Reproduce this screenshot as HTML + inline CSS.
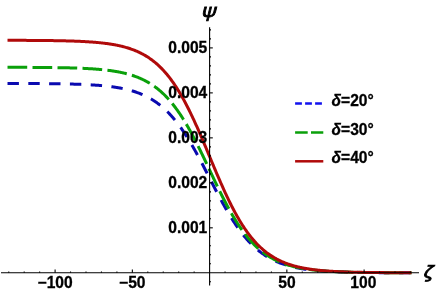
<!DOCTYPE html><html><head><meta charset="utf-8"><style>html,body{margin:0;padding:0;background:#fff}svg{display:block;will-change:transform}</style></head><body><svg width="436" height="293" viewBox="0 0 436 293">
<polyline points="7.51,83.48 8.29,83.48 9.06,83.48 9.83,83.48 10.60,83.49 11.38,83.49 12.15,83.49 12.92,83.49 13.69,83.49 14.47,83.49 15.24,83.50 16.01,83.50 16.78,83.50 17.56,83.50 18.33,83.51 19.10,83.51 19.87,83.51 20.65,83.51 21.42,83.52 22.19,83.52 22.96,83.52 23.74,83.52 24.51,83.53 25.28,83.53 26.05,83.53 26.83,83.54 27.60,83.54 28.37,83.54 29.14,83.55 29.92,83.55 30.69,83.55 31.46,83.56 32.23,83.56 33.01,83.56 33.78,83.57 34.55,83.57 35.32,83.58 36.10,83.58 36.87,83.59 37.64,83.59 38.41,83.60 39.19,83.60 39.96,83.61 40.73,83.61 41.50,83.62 42.28,83.63 43.05,83.63 43.82,83.64 44.59,83.64 45.37,83.65 46.14,83.66 46.91,83.67 47.68,83.67 48.46,83.68 49.23,83.69 50.00,83.70 50.77,83.71 51.55,83.71 52.32,83.72 53.09,83.73 53.86,83.74 54.64,83.75 55.41,83.76 56.18,83.77 56.95,83.78 57.73,83.80 58.50,83.81 59.27,83.82 60.04,83.83 60.82,83.84 61.59,83.86 62.36,83.87 63.13,83.88 63.91,83.90 64.68,83.91 65.45,83.93 66.22,83.95 67.00,83.96 67.77,83.98 68.54,84.00 69.31,84.02 70.09,84.03 70.86,84.05 71.63,84.07 72.40,84.09 73.18,84.12 73.95,84.14 74.72,84.16 75.49,84.18 76.27,84.21 77.04,84.23 77.81,84.26 78.58,84.28 79.36,84.31 80.13,84.34 80.90,84.37 81.67,84.40 82.45,84.43 83.22,84.46 83.99,84.50 84.76,84.53 85.54,84.57 86.31,84.60 87.08,84.64 87.85,84.68 88.63,84.72 89.40,84.76 90.17,84.80 90.94,84.85 91.72,84.89 92.49,84.94 93.26,84.99 94.03,85.04 94.81,85.09 95.58,85.14 96.35,85.19 97.12,85.25 97.90,85.31 98.67,85.37 99.44,85.43 100.21,85.50 100.99,85.56 101.76,85.63 102.53,85.70 103.30,85.77 104.08,85.85 104.85,85.92 105.62,86.00 106.39,86.08 107.17,86.17 107.94,86.26 108.71,86.35 109.48,86.44 110.26,86.53 111.03,86.63 111.80,86.74 112.57,86.84 113.35,86.95 114.12,87.06 114.89,87.17 115.66,87.29 116.44,87.42 117.21,87.54 117.98,87.67 118.75,87.81 119.53,87.94 120.30,88.09 121.07,88.23 121.84,88.38 122.62,88.54 123.39,88.70 124.16,88.87 124.93,89.04 125.71,89.21 126.48,89.39 127.25,89.58 128.02,89.77 128.80,89.97 129.57,90.17 130.34,90.38 131.11,90.60 131.89,90.82 132.66,91.05 133.43,91.29 134.20,91.53 134.98,91.78 135.75,92.04 136.52,92.31 137.29,92.58 138.07,92.86 138.84,93.15 139.61,93.45 140.38,93.75 141.16,94.07 141.93,94.39 142.70,94.73 143.47,95.07 144.25,95.42 145.02,95.79 145.79,96.16 146.56,96.54 147.34,96.94 148.11,97.34 148.88,97.76 149.65,98.18 150.43,98.62 151.20,99.07 151.97,99.54 152.74,100.01 153.52,100.50 154.29,101.00 155.06,101.52 155.83,102.04 156.61,102.59 157.38,103.14 158.15,103.71 158.92,104.29 159.70,104.89 160.47,105.51 161.24,106.13 162.01,106.78 162.79,107.44 163.56,108.11 164.33,108.80 165.10,109.51 165.88,110.24 166.65,110.98 167.42,111.74 168.19,112.51 168.97,113.30 169.74,114.11 170.51,114.94 171.28,115.79 172.06,116.65 172.83,117.53 173.60,118.43 174.37,119.35 175.15,120.29 175.92,121.24 176.69,122.21 177.46,123.20 178.24,124.21 179.01,125.24 179.78,126.29 180.55,127.35 181.33,128.44 182.10,129.54 182.87,130.66 183.64,131.80 184.42,132.95 185.19,134.13 185.96,135.32 186.73,136.52 187.51,137.75 188.28,138.99 189.05,140.25 189.82,141.53 190.60,142.82 191.37,144.12 192.14,145.44 192.91,146.78 193.69,148.13 194.46,149.49 195.23,150.87 196.00,152.26 196.78,153.66 197.55,155.07 198.32,156.49 199.09,157.93 199.87,159.37 200.64,160.82 201.41,162.29 202.18,163.75 202.96,165.23 203.73,166.71 204.50,168.20 205.27,169.70 206.05,171.19 206.82,172.70 207.59,174.20 208.36,175.71 209.14,177.21 209.91,178.72 210.68,180.23 211.45,181.73 212.23,183.24 213.00,184.74 213.77,186.24 214.54,187.73 215.32,189.22 216.09,190.71 216.86,192.18 217.63,193.66 218.41,195.12 219.18,196.57 219.95,198.02 220.72,199.46 221.50,200.88 222.27,202.30 223.04,203.70 223.81,205.09 224.59,206.47 225.36,207.84 226.13,209.19 226.90,210.53 227.68,211.85 228.45,213.16 229.22,214.45 229.99,215.73 230.77,216.99 231.54,218.24 232.31,219.47 233.08,220.68 233.86,221.87 234.63,223.05 235.40,224.21 236.17,225.35 236.95,226.47 237.72,227.58 238.49,228.67 239.26,229.73 240.04,230.78 240.81,231.82 241.58,232.83 242.35,233.83 243.13,234.80 243.90,235.76 244.67,236.70 245.44,237.62 246.22,238.52 246.99,239.41 247.76,240.28 248.53,241.12 249.31,241.96 250.08,242.77 250.85,243.57 251.62,244.34 252.40,245.11 253.17,245.85 253.94,246.58 254.71,247.29 255.49,247.98 256.26,248.66 257.03,249.33 257.80,249.97 258.58,250.60 259.35,251.22 260.12,251.82 260.89,252.41 261.67,252.98 262.44,253.54 263.21,254.08 263.98,254.61 264.76,255.13 265.53,255.63 266.30,256.12 267.07,256.60 267.85,257.07 268.62,257.52 269.39,257.96 270.16,258.39 270.94,258.81 271.71,259.22 272.48,259.61 273.25,260.00 274.03,260.37 274.80,260.74 275.57,261.09 276.34,261.44 277.12,261.77 277.89,262.10 278.66,262.42 279.43,262.73 280.21,263.02 280.98,263.32 281.75,263.60 282.52,263.87 283.30,264.14 284.07,264.40 284.84,264.65 285.61,264.90 286.39,265.13 287.16,265.37 287.93,265.59 288.70,265.81 289.48,266.02 290.25,266.22 291.02,266.42 291.79,266.62 292.57,266.80 293.34,266.99 294.11,267.16 294.88,267.33 295.66,267.50 296.43,267.66 297.20,267.82 297.97,267.97 298.75,268.12 299.52,268.26 300.29,268.40 301.06,268.54 301.84,268.67 302.61,268.79 303.38,268.92 304.15,269.04 304.93,269.15 305.70,269.26 306.47,269.37 307.24,269.48 308.02,269.58 308.79,269.68 309.56,269.78 310.33,269.87 311.11,269.96 311.88,270.05 312.65,270.13 313.42,270.22 314.20,270.30 314.97,270.37 315.74,270.45 316.51,270.52 317.29,270.59 318.06,270.66 318.83,270.73 319.60,270.79 320.38,270.85 321.15,270.91 321.92,270.97 322.69,271.03 323.47,271.08 324.24,271.14 325.01,271.19 325.78,271.24 326.56,271.29 327.33,271.33 328.10,271.38 328.87,271.42 329.65,271.47 330.42,271.51 331.19,271.55 331.96,271.59 332.74,271.63 333.51,271.66 334.28,271.70 335.05,271.73 335.83,271.77 336.60,271.80 337.37,271.83 338.14,271.86 338.92,271.89 339.69,271.92 340.46,271.94 341.23,271.97 342.01,272.00 342.78,272.02 343.55,272.05 344.32,272.07 345.10,272.09 345.87,272.11 346.64,272.14 347.41,272.16 348.19,272.18 348.96,272.20 349.73,272.22 350.50,272.23 351.28,272.25 352.05,272.27 352.82,272.28 353.59,272.30 354.37,272.32 355.14,272.33 355.91,272.35 356.68,272.36 357.46,272.37 358.23,272.39 359.00,272.40 359.77,272.41 360.55,272.43 361.32,272.44 362.09,272.45 362.86,272.46 363.64,272.47 364.41,272.48 365.18,272.49 365.95,272.50 366.73,272.51 367.50,272.52 368.27,272.53 369.04,272.54 369.82,272.54 370.59,272.55 371.36,272.56 372.13,272.57 372.91,272.57 373.68,272.58 374.45,272.59 375.22,272.60 376.00,272.60 376.77,272.61 377.54,272.61 378.31,272.62 379.09,272.63 379.86,272.63 380.63,272.64 381.40,272.64 382.18,272.65 382.95,272.65 383.72,272.66 384.49,272.66 385.27,272.66 386.04,272.67 386.81,272.67 387.58,272.68 388.36,272.68 389.13,272.68 389.90,272.69 390.67,272.69 391.45,272.69 392.22,272.70 392.99,272.70 393.76,272.70 394.54,272.71 395.31,272.71 396.08,272.71 396.85,272.72 397.63,272.72 398.40,272.72 399.17,272.72 399.94,272.73 400.72,272.73 401.49,272.73 402.26,272.73 403.03,272.73 403.81,272.74 404.58,272.74 405.35,272.74 406.12,272.74 406.90,272.74 407.67,272.75 408.44,272.75 409.21,272.75 409.99,272.75 410.76,272.75 411.53,272.75" fill="none" stroke="#0a0ab0" stroke-width="3.0" stroke-dasharray="11.4,9.4"/>
<polyline points="7.51,67.29 8.29,67.29 9.06,67.29 9.83,67.30 10.60,67.30 11.38,67.30 12.15,67.30 12.92,67.30 13.69,67.31 14.47,67.31 15.24,67.31 16.01,67.31 16.78,67.31 17.56,67.32 18.33,67.32 19.10,67.32 19.87,67.32 20.65,67.33 21.42,67.33 22.19,67.33 22.96,67.33 23.74,67.34 24.51,67.34 25.28,67.34 26.05,67.35 26.83,67.35 27.60,67.35 28.37,67.36 29.14,67.36 29.92,67.37 30.69,67.37 31.46,67.37 32.23,67.38 33.01,67.38 33.78,67.39 34.55,67.39 35.32,67.40 36.10,67.40 36.87,67.41 37.64,67.41 38.41,67.42 39.19,67.42 39.96,67.43 40.73,67.44 41.50,67.44 42.28,67.45 43.05,67.46 43.82,67.46 44.59,67.47 45.37,67.48 46.14,67.48 46.91,67.49 47.68,67.50 48.46,67.51 49.23,67.52 50.00,67.53 50.77,67.54 51.55,67.55 52.32,67.55 53.09,67.57 53.86,67.58 54.64,67.59 55.41,67.60 56.18,67.61 56.95,67.62 57.73,67.63 58.50,67.65 59.27,67.66 60.04,67.67 60.82,67.69 61.59,67.70 62.36,67.72 63.13,67.73 63.91,67.75 64.68,67.76 65.45,67.78 66.22,67.80 67.00,67.81 67.77,67.83 68.54,67.85 69.31,67.87 70.09,67.89 70.86,67.91 71.63,67.94 72.40,67.96 73.18,67.98 73.95,68.00 74.72,68.03 75.49,68.05 76.27,68.08 77.04,68.11 77.81,68.14 78.58,68.16 79.36,68.19 80.13,68.22 80.90,68.26 81.67,68.29 82.45,68.32 83.22,68.36 83.99,68.39 84.76,68.43 85.54,68.47 86.31,68.51 87.08,68.55 87.85,68.59 88.63,68.63 89.40,68.68 90.17,68.73 90.94,68.77 91.72,68.82 92.49,68.87 93.26,68.93 94.03,68.98 94.81,69.04 95.58,69.09 96.35,69.15 97.12,69.21 97.90,69.28 98.67,69.34 99.44,69.41 100.21,69.48 100.99,69.55 101.76,69.62 102.53,69.70 103.30,69.78 104.08,69.86 104.85,69.94 105.62,70.03 106.39,70.12 107.17,70.21 107.94,70.31 108.71,70.40 109.48,70.50 110.26,70.61 111.03,70.71 111.80,70.82 112.57,70.94 113.35,71.06 114.12,71.18 114.89,71.30 115.66,71.43 116.44,71.56 117.21,71.70 117.98,71.84 118.75,71.99 119.53,72.14 120.30,72.29 121.07,72.45 121.84,72.61 122.62,72.78 123.39,72.96 124.16,73.14 124.93,73.32 125.71,73.51 126.48,73.71 127.25,73.91 128.02,74.12 128.80,74.34 129.57,74.56 130.34,74.79 131.11,75.02 131.89,75.26 132.66,75.51 133.43,75.77 134.20,76.03 134.98,76.30 135.75,76.58 136.52,76.87 137.29,77.17 138.07,77.47 138.84,77.79 139.61,78.11 140.38,78.44 141.16,78.79 141.93,79.14 142.70,79.50 143.47,79.87 144.25,80.26 145.02,80.65 145.79,81.05 146.56,81.47 147.34,81.90 148.11,82.34 148.88,82.79 149.65,83.25 150.43,83.73 151.20,84.22 151.97,84.72 152.74,85.24 153.52,85.77 154.29,86.31 155.06,86.87 155.83,87.44 156.61,88.03 157.38,88.63 158.15,89.25 158.92,89.88 159.70,90.53 160.47,91.20 161.24,91.88 162.01,92.58 162.79,93.30 163.56,94.03 164.33,94.78 165.10,95.55 165.88,96.34 166.65,97.14 167.42,97.96 168.19,98.81 168.97,99.67 169.74,100.54 170.51,101.44 171.28,102.36 172.06,103.30 172.83,104.25 173.60,105.23 174.37,106.23 175.15,107.24 175.92,108.28 176.69,109.34 177.46,110.41 178.24,111.51 179.01,112.62 179.78,113.76 180.55,114.92 181.33,116.09 182.10,117.29 182.87,118.50 183.64,119.74 184.42,120.99 185.19,122.27 185.96,123.56 186.73,124.87 187.51,126.20 188.28,127.55 189.05,128.92 189.82,130.30 190.60,131.70 191.37,133.12 192.14,134.55 192.91,136.00 193.69,137.47 194.46,138.95 195.23,140.44 196.00,141.95 196.78,143.47 197.55,145.00 198.32,146.55 199.09,148.10 199.87,149.67 200.64,151.25 201.41,152.84 202.18,154.43 202.96,156.03 203.73,157.64 204.50,159.26 205.27,160.88 206.05,162.51 206.82,164.14 207.59,165.77 208.36,167.40 209.14,169.04 209.91,170.68 210.68,172.31 211.45,173.95 212.23,175.58 213.00,177.21 213.77,178.84 214.54,180.46 215.32,182.08 216.09,183.69 216.86,185.29 217.63,186.89 218.41,188.48 219.18,190.06 219.95,191.62 220.72,193.18 221.50,194.73 222.27,196.27 223.04,197.79 223.81,199.30 224.59,200.80 225.36,202.28 226.13,203.75 226.90,205.20 227.68,206.64 228.45,208.06 229.22,209.46 229.99,210.85 230.77,212.22 231.54,213.57 232.31,214.91 233.08,216.22 233.86,217.52 234.63,218.79 235.40,220.05 236.17,221.29 236.95,222.51 237.72,223.71 238.49,224.89 239.26,226.05 240.04,227.19 240.81,228.31 241.58,229.41 242.35,230.49 243.13,231.55 243.90,232.59 244.67,233.61 245.44,234.61 246.22,235.59 246.99,236.55 247.76,237.49 248.53,238.42 249.31,239.32 250.08,240.20 250.85,241.07 251.62,241.91 252.40,242.74 253.17,243.55 253.94,244.34 254.71,245.11 255.49,245.86 256.26,246.60 257.03,247.32 257.80,248.02 258.58,248.71 259.35,249.38 260.12,250.03 260.89,250.67 261.67,251.29 262.44,251.89 263.21,252.48 263.98,253.06 264.76,253.62 265.53,254.17 266.30,254.70 267.07,255.22 267.85,255.72 268.62,256.22 269.39,256.69 270.16,257.16 270.94,257.61 271.71,258.06 272.48,258.49 273.25,258.90 274.03,259.31 274.80,259.71 275.57,260.09 276.34,260.47 277.12,260.83 277.89,261.19 278.66,261.53 279.43,261.86 280.21,262.19 280.98,262.50 281.75,262.81 282.52,263.11 283.30,263.40 284.07,263.68 284.84,263.96 285.61,264.22 286.39,264.48 287.16,264.73 287.93,264.97 288.70,265.21 289.48,265.44 290.25,265.66 291.02,265.88 291.79,266.09 292.57,266.29 293.34,266.49 294.11,266.68 294.88,266.87 295.66,267.05 296.43,267.22 297.20,267.39 297.97,267.56 298.75,267.72 299.52,267.87 300.29,268.03 301.06,268.17 301.84,268.31 302.61,268.45 303.38,268.58 304.15,268.71 304.93,268.84 305.70,268.96 306.47,269.08 307.24,269.19 308.02,269.31 308.79,269.41 309.56,269.52 310.33,269.62 311.11,269.72 311.88,269.81 312.65,269.90 313.42,269.99 314.20,270.08 314.97,270.17 315.74,270.25 316.51,270.33 317.29,270.40 318.06,270.48 318.83,270.55 319.60,270.62 320.38,270.69 321.15,270.75 321.92,270.82 322.69,270.88 323.47,270.94 324.24,270.99 325.01,271.05 325.78,271.11 326.56,271.16 327.33,271.21 328.10,271.26 328.87,271.31 329.65,271.35 330.42,271.40 331.19,271.44 331.96,271.48 332.74,271.52 333.51,271.56 334.28,271.60 335.05,271.64 335.83,271.68 336.60,271.71 337.37,271.75 338.14,271.78 338.92,271.81 339.69,271.84 340.46,271.87 341.23,271.90 342.01,271.93 342.78,271.96 343.55,271.98 344.32,272.01 345.10,272.03 345.87,272.06 346.64,272.08 347.41,272.10 348.19,272.12 348.96,272.14 349.73,272.17 350.50,272.19 351.28,272.20 352.05,272.22 352.82,272.24 353.59,272.26 354.37,272.28 355.14,272.29 355.91,272.31 356.68,272.32 357.46,272.34 358.23,272.35 359.00,272.37 359.77,272.38 360.55,272.39 361.32,272.41 362.09,272.42 362.86,272.43 363.64,272.44 364.41,272.45 365.18,272.46 365.95,272.47 366.73,272.48 367.50,272.49 368.27,272.50 369.04,272.51 369.82,272.52 370.59,272.53 371.36,272.54 372.13,272.55 372.91,272.56 373.68,272.56 374.45,272.57 375.22,272.58 376.00,272.58 376.77,272.59 377.54,272.60 378.31,272.60 379.09,272.61 379.86,272.62 380.63,272.62 381.40,272.63 382.18,272.63 382.95,272.64 383.72,272.64 384.49,272.65 385.27,272.65 386.04,272.66 386.81,272.66 387.58,272.67 388.36,272.67 389.13,272.67 389.90,272.68 390.67,272.68 391.45,272.69 392.22,272.69 392.99,272.69 393.76,272.70 394.54,272.70 395.31,272.70 396.08,272.71 396.85,272.71 397.63,272.71 398.40,272.71 399.17,272.72 399.94,272.72 400.72,272.72 401.49,272.72 402.26,272.73 403.03,272.73 403.81,272.73 404.58,272.73 405.35,272.74 406.12,272.74 406.90,272.74 407.67,272.74 408.44,272.74 409.21,272.75 409.99,272.75 410.76,272.75 411.53,272.75" fill="none" stroke="#0aa00a" stroke-width="3.0" stroke-dasharray="19.7,5.3"/>
<polyline points="7.51,40.31 8.29,40.31 9.06,40.31 9.83,40.32 10.60,40.32 11.38,40.32 12.15,40.32 12.92,40.32 13.69,40.33 14.47,40.33 15.24,40.33 16.01,40.33 16.78,40.34 17.56,40.34 18.33,40.34 19.10,40.34 19.87,40.35 20.65,40.35 21.42,40.35 22.19,40.36 22.96,40.36 23.74,40.36 24.51,40.37 25.28,40.37 26.05,40.37 26.83,40.38 27.60,40.38 28.37,40.39 29.14,40.39 29.92,40.39 30.69,40.40 31.46,40.40 32.23,40.41 33.01,40.41 33.78,40.42 34.55,40.42 35.32,40.43 36.10,40.44 36.87,40.44 37.64,40.45 38.41,40.45 39.19,40.46 39.96,40.47 40.73,40.47 41.50,40.48 42.28,40.49 43.05,40.50 43.82,40.50 44.59,40.51 45.37,40.52 46.14,40.53 46.91,40.54 47.68,40.55 48.46,40.56 49.23,40.57 50.00,40.58 50.77,40.59 51.55,40.60 52.32,40.61 53.09,40.62 53.86,40.63 54.64,40.64 55.41,40.66 56.18,40.67 56.95,40.68 57.73,40.70 58.50,40.71 59.27,40.73 60.04,40.74 60.82,40.76 61.59,40.77 62.36,40.79 63.13,40.81 63.91,40.82 64.68,40.84 65.45,40.86 66.22,40.88 67.00,40.90 67.77,40.92 68.54,40.94 69.31,40.97 70.09,40.99 70.86,41.01 71.63,41.04 72.40,41.06 73.18,41.09 73.95,41.12 74.72,41.14 75.49,41.17 76.27,41.20 77.04,41.23 77.81,41.27 78.58,41.30 79.36,41.33 80.13,41.37 80.90,41.40 81.67,41.44 82.45,41.48 83.22,41.52 83.99,41.56 84.76,41.60 85.54,41.64 86.31,41.69 87.08,41.73 87.85,41.78 88.63,41.83 89.40,41.88 90.17,41.93 90.94,41.99 91.72,42.04 92.49,42.10 93.26,42.16 94.03,42.22 94.81,42.28 95.58,42.35 96.35,42.42 97.12,42.48 97.90,42.56 98.67,42.63 99.44,42.71 100.21,42.78 100.99,42.87 101.76,42.95 102.53,43.04 103.30,43.12 104.08,43.22 104.85,43.31 105.62,43.41 106.39,43.51 107.17,43.61 107.94,43.72 108.71,43.83 109.48,43.94 110.26,44.06 111.03,44.18 111.80,44.31 112.57,44.44 113.35,44.57 114.12,44.71 114.89,44.85 115.66,44.99 116.44,45.14 117.21,45.30 117.98,45.46 118.75,45.62 119.53,45.79 120.30,45.97 121.07,46.15 121.84,46.33 122.62,46.52 123.39,46.72 124.16,46.92 124.93,47.13 125.71,47.35 126.48,47.57 127.25,47.80 128.02,48.04 128.80,48.28 129.57,48.53 130.34,48.79 131.11,49.05 131.89,49.33 132.66,49.61 133.43,49.90 134.20,50.20 134.98,50.51 135.75,50.82 136.52,51.15 137.29,51.48 138.07,51.83 138.84,52.19 139.61,52.55 140.38,52.93 141.16,53.31 141.93,53.71 142.70,54.12 143.47,54.54 144.25,54.98 145.02,55.42 145.79,55.88 146.56,56.35 147.34,56.83 148.11,57.33 148.88,57.84 149.65,58.37 150.43,58.91 151.20,59.46 151.97,60.03 152.74,60.61 153.52,61.21 154.29,61.83 155.06,62.46 155.83,63.11 156.61,63.77 157.38,64.45 158.15,65.15 158.92,65.87 159.70,66.60 160.47,67.36 161.24,68.13 162.01,68.92 162.79,69.73 163.56,70.56 164.33,71.41 165.10,72.28 165.88,73.17 166.65,74.08 167.42,75.01 168.19,75.96 168.97,76.93 169.74,77.93 170.51,78.95 171.28,79.98 172.06,81.04 172.83,82.13 173.60,83.23 174.37,84.36 175.15,85.51 175.92,86.68 176.69,87.87 177.46,89.09 178.24,90.33 179.01,91.59 179.78,92.88 180.55,94.19 181.33,95.52 182.10,96.87 182.87,98.25 183.64,99.64 184.42,101.06 185.19,102.50 185.96,103.97 186.73,105.45 187.51,106.95 188.28,108.48 189.05,110.03 189.82,111.59 190.60,113.18 191.37,114.78 192.14,116.40 192.91,118.04 193.69,119.70 194.46,121.37 195.23,123.06 196.00,124.77 196.78,126.49 197.55,128.22 198.32,129.97 199.09,131.73 199.87,133.51 200.64,135.29 201.41,137.09 202.18,138.89 202.96,140.70 203.73,142.52 204.50,144.35 205.27,146.19 206.05,148.03 206.82,149.87 207.59,151.72 208.36,153.56 209.14,155.42 209.91,157.27 210.68,159.12 211.45,160.97 212.23,162.82 213.00,164.66 213.77,166.50 214.54,168.34 215.32,170.16 216.09,171.99 216.86,173.80 217.63,175.61 218.41,177.40 219.18,179.19 219.95,180.97 220.72,182.73 221.50,184.48 222.27,186.22 223.04,187.94 223.81,189.65 224.59,191.34 225.36,193.02 226.13,194.68 226.90,196.33 227.68,197.95 228.45,199.56 229.22,201.15 229.99,202.72 230.77,204.27 231.54,205.80 232.31,207.30 233.08,208.79 233.86,210.26 234.63,211.70 235.40,213.13 236.17,214.53 236.95,215.91 237.72,217.27 238.49,218.60 239.26,219.91 240.04,221.20 240.81,222.47 241.58,223.72 242.35,224.94 243.13,226.14 243.90,227.31 244.67,228.47 245.44,229.60 246.22,230.71 246.99,231.79 247.76,232.86 248.53,233.90 249.31,234.92 250.08,235.92 250.85,236.90 251.62,237.86 252.40,238.79 253.17,239.70 253.94,240.60 254.71,241.47 255.49,242.33 256.26,243.16 257.03,243.97 257.80,244.77 258.58,245.54 259.35,246.30 260.12,247.04 260.89,247.76 261.67,248.46 262.44,249.15 263.21,249.82 263.98,250.47 264.76,251.10 265.53,251.72 266.30,252.32 267.07,252.91 267.85,253.48 268.62,254.04 269.39,254.58 270.16,255.11 270.94,255.62 271.71,256.12 272.48,256.61 273.25,257.08 274.03,257.54 274.80,257.99 275.57,258.42 276.34,258.85 277.12,259.26 277.89,259.66 278.66,260.05 279.43,260.43 280.21,260.80 280.98,261.15 281.75,261.50 282.52,261.84 283.30,262.17 284.07,262.48 284.84,262.79 285.61,263.09 286.39,263.39 287.16,263.67 287.93,263.95 288.70,264.21 289.48,264.47 290.25,264.72 291.02,264.97 291.79,265.21 292.57,265.44 293.34,265.66 294.11,265.88 294.88,266.09 295.66,266.29 296.43,266.49 297.20,266.68 297.97,266.87 298.75,267.05 299.52,267.23 300.29,267.40 301.06,267.56 301.84,267.72 302.61,267.88 303.38,268.03 304.15,268.18 304.93,268.32 305.70,268.46 306.47,268.59 307.24,268.72 308.02,268.85 308.79,268.97 309.56,269.09 310.33,269.20 311.11,269.31 311.88,269.42 312.65,269.52 313.42,269.63 314.20,269.72 314.97,269.82 315.74,269.91 316.51,270.00 317.29,270.09 318.06,270.17 318.83,270.25 319.60,270.33 320.38,270.41 321.15,270.48 321.92,270.55 322.69,270.62 323.47,270.69 324.24,270.76 325.01,270.82 325.78,270.88 326.56,270.94 327.33,271.00 328.10,271.06 328.87,271.11 329.65,271.16 330.42,271.21 331.19,271.26 331.96,271.31 332.74,271.36 333.51,271.40 334.28,271.45 335.05,271.49 335.83,271.53 336.60,271.57 337.37,271.61 338.14,271.64 338.92,271.68 339.69,271.72 340.46,271.75 341.23,271.78 342.01,271.81 342.78,271.84 343.55,271.87 344.32,271.90 345.10,271.93 345.87,271.96 346.64,271.98 347.41,272.01 348.19,272.03 348.96,272.06 349.73,272.08 350.50,272.10 351.28,272.13 352.05,272.15 352.82,272.17 353.59,272.19 354.37,272.21 355.14,272.22 355.91,272.24 356.68,272.26 357.46,272.28 358.23,272.29 359.00,272.31 359.77,272.32 360.55,272.34 361.32,272.35 362.09,272.37 362.86,272.38 363.64,272.39 364.41,272.41 365.18,272.42 365.95,272.43 366.73,272.44 367.50,272.45 368.27,272.47 369.04,272.48 369.82,272.49 370.59,272.50 371.36,272.51 372.13,272.51 372.91,272.52 373.68,272.53 374.45,272.54 375.22,272.55 376.00,272.56 376.77,272.56 377.54,272.57 378.31,272.58 379.09,272.59 379.86,272.59 380.63,272.60 381.40,272.60 382.18,272.61 382.95,272.62 383.72,272.62 384.49,272.63 385.27,272.63 386.04,272.64 386.81,272.64 387.58,272.65 388.36,272.65 389.13,272.66 389.90,272.66 390.67,272.67 391.45,272.67 392.22,272.68 392.99,272.68 393.76,272.68 394.54,272.69 395.31,272.69 396.08,272.69 396.85,272.70 397.63,272.70 398.40,272.70 399.17,272.71 399.94,272.71 400.72,272.71 401.49,272.71 402.26,272.72 403.03,272.72 403.81,272.72 404.58,272.72 405.35,272.73 406.12,272.73 406.90,272.73 407.67,272.73 408.44,272.74 409.21,272.74 409.99,272.74 410.76,272.74 411.53,272.74" fill="none" stroke="#b00a0a" stroke-width="3.0"/>
<g stroke="#000" stroke-width="1.1" fill="none">
<line x1="1" y1="272.8" x2="419" y2="272.8"/>
<line x1="209.6" y1="27.3" x2="209.6" y2="285.6"/>
<line x1="8.75" y1="272.8" x2="8.75" y2="271.40000000000003"/>
<line x1="24.20" y1="272.8" x2="24.20" y2="271.40000000000003"/>
<line x1="39.65" y1="272.8" x2="39.65" y2="271.40000000000003"/>
<line x1="55.10" y1="272.8" x2="55.10" y2="269.6"/>
<line x1="70.55" y1="272.8" x2="70.55" y2="271.40000000000003"/>
<line x1="86.00" y1="272.8" x2="86.00" y2="271.40000000000003"/>
<line x1="101.45" y1="272.8" x2="101.45" y2="271.40000000000003"/>
<line x1="116.90" y1="272.8" x2="116.90" y2="271.40000000000003"/>
<line x1="132.35" y1="272.8" x2="132.35" y2="269.6"/>
<line x1="147.80" y1="272.8" x2="147.80" y2="271.40000000000003"/>
<line x1="163.25" y1="272.8" x2="163.25" y2="271.40000000000003"/>
<line x1="178.70" y1="272.8" x2="178.70" y2="271.40000000000003"/>
<line x1="194.15" y1="272.8" x2="194.15" y2="271.40000000000003"/>
<line x1="225.05" y1="272.8" x2="225.05" y2="271.40000000000003"/>
<line x1="240.50" y1="272.8" x2="240.50" y2="271.40000000000003"/>
<line x1="255.95" y1="272.8" x2="255.95" y2="271.40000000000003"/>
<line x1="271.40" y1="272.8" x2="271.40" y2="271.40000000000003"/>
<line x1="286.85" y1="272.8" x2="286.85" y2="269.6"/>
<line x1="302.30" y1="272.8" x2="302.30" y2="271.40000000000003"/>
<line x1="317.75" y1="272.8" x2="317.75" y2="271.40000000000003"/>
<line x1="333.20" y1="272.8" x2="333.20" y2="271.40000000000003"/>
<line x1="348.65" y1="272.8" x2="348.65" y2="271.40000000000003"/>
<line x1="364.10" y1="272.8" x2="364.10" y2="269.6"/>
<line x1="379.55" y1="272.8" x2="379.55" y2="271.40000000000003"/>
<line x1="395.00" y1="272.8" x2="395.00" y2="271.40000000000003"/>
<line x1="410.45" y1="272.8" x2="410.45" y2="271.40000000000003"/>
<line x1="209.6" y1="281.80" x2="211.0" y2="281.80"/>
<line x1="209.6" y1="263.80" x2="211.0" y2="263.80"/>
<line x1="209.6" y1="254.81" x2="211.0" y2="254.81"/>
<line x1="209.6" y1="245.81" x2="211.0" y2="245.81"/>
<line x1="209.6" y1="236.82" x2="211.0" y2="236.82"/>
<line x1="209.6" y1="227.82" x2="212.79999999999998" y2="227.82"/>
<line x1="209.6" y1="218.82" x2="211.0" y2="218.82"/>
<line x1="209.6" y1="209.83" x2="211.0" y2="209.83"/>
<line x1="209.6" y1="200.83" x2="211.0" y2="200.83"/>
<line x1="209.6" y1="191.84" x2="211.0" y2="191.84"/>
<line x1="209.6" y1="182.84" x2="212.79999999999998" y2="182.84"/>
<line x1="209.6" y1="173.84" x2="211.0" y2="173.84"/>
<line x1="209.6" y1="164.85" x2="211.0" y2="164.85"/>
<line x1="209.6" y1="155.85" x2="211.0" y2="155.85"/>
<line x1="209.6" y1="146.86" x2="211.0" y2="146.86"/>
<line x1="209.6" y1="137.86" x2="212.79999999999998" y2="137.86"/>
<line x1="209.6" y1="128.86" x2="211.0" y2="128.86"/>
<line x1="209.6" y1="119.87" x2="211.0" y2="119.87"/>
<line x1="209.6" y1="110.87" x2="211.0" y2="110.87"/>
<line x1="209.6" y1="101.88" x2="211.0" y2="101.88"/>
<line x1="209.6" y1="92.88" x2="212.79999999999998" y2="92.88"/>
<line x1="209.6" y1="83.88" x2="211.0" y2="83.88"/>
<line x1="209.6" y1="74.89" x2="211.0" y2="74.89"/>
<line x1="209.6" y1="65.89" x2="211.0" y2="65.89"/>
<line x1="209.6" y1="56.90" x2="211.0" y2="56.90"/>
<line x1="209.6" y1="47.90" x2="212.79999999999998" y2="47.90"/>
<line x1="209.6" y1="38.90" x2="211.0" y2="38.90"/>
<line x1="209.6" y1="29.91" x2="211.0" y2="29.91"/>
</g>
<g font-family="Liberation Sans, sans-serif" font-weight="bold" font-size="15.6" fill="#000" stroke="#000" stroke-width="0.3">
<text x="55.1" y="288" text-anchor="middle">−100</text>
<text x="132.3" y="288" text-anchor="middle">−50</text>
<text x="286.9" y="288" text-anchor="middle">50</text>
<text x="363.3" y="288" text-anchor="middle">100</text>
<text x="207.3" y="233.1" text-anchor="end">0.001</text>
<text x="207.3" y="188.1" text-anchor="end">0.002</text>
<text x="207.3" y="143.2" text-anchor="end">0.003</text>
<text x="207.3" y="98.2" text-anchor="end">0.004</text>
<text x="207.3" y="53.2" text-anchor="end">0.005</text>
</g>
<line x1="295.1" y1="103.5" x2="323.3" y2="103.5" stroke="#1212ee" stroke-width="2.5" stroke-dasharray="6.8,3.2"/>
<text x="331.5" y="105.6" font-family="Liberation Sans, sans-serif" font-weight="bold" font-size="15.6" stroke="#000" stroke-width="0.3"><tspan font-style="italic">δ</tspan>=20°</text>
<line x1="295.1" y1="132.4" x2="323.3" y2="132.4" stroke="#0aa00a" stroke-width="2.5" stroke-dasharray="12.6,3.3"/>
<text x="331.5" y="134.5" font-family="Liberation Sans, sans-serif" font-weight="bold" font-size="15.6" stroke="#000" stroke-width="0.3"><tspan font-style="italic">δ</tspan>=30°</text>
<line x1="295.1" y1="161.3" x2="323.3" y2="161.3" stroke="#b00a0a" stroke-width="2.5"/>
<text x="331.5" y="163.4" font-family="Liberation Sans, sans-serif" font-weight="bold" font-size="15.6" stroke="#000" stroke-width="0.3"><tspan font-style="italic">δ</tspan>=40°</text>
<text x="208.3" y="17.4" text-anchor="middle" font-family="WenQuanYi Zen Hei, sans-serif" font-style="italic" font-size="20" stroke="#000" stroke-width="0.9">ψ</text>
<text x="427.2" y="278.3" text-anchor="middle" font-family="WenQuanYi Zen Hei, sans-serif" font-style="italic" font-size="18" stroke="#000" stroke-width="0.8" transform="translate(427.2 0) scale(1.12 1) translate(-427.2 0)">ζ</text>
</svg></body></html>
